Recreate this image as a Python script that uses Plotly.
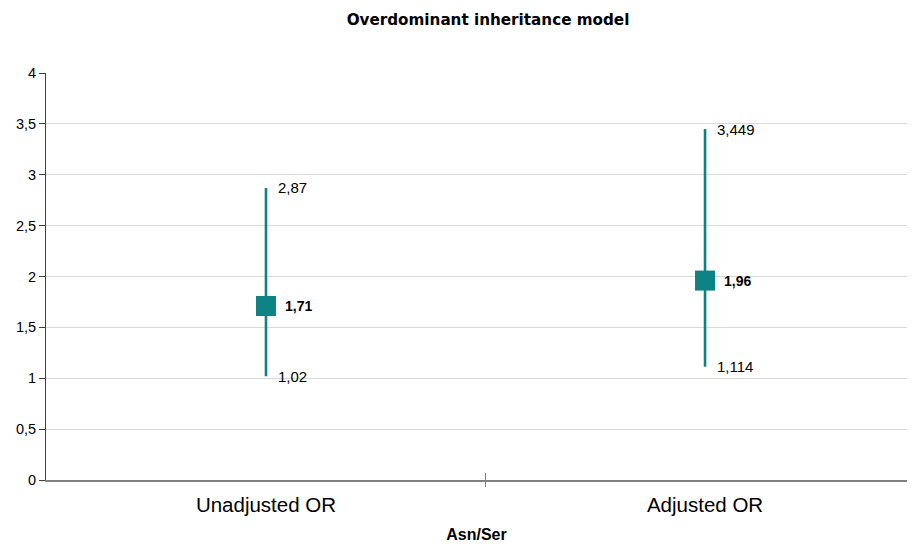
import plotly.graph_objects as go

categories = ["Unadjusted OR", "Adjusted OR"]
odds_ratio = [1.71, 1.96]
ci_lower = [1.02, 1.114]
ci_upper = [2.87, 3.449]
y_ticks = [0, 0.5, 1, 1.5, 2, 2.5, 3, 3.5, 4]

TEAL = "#0d8282"
FONT = "Liberation Sans, Arial, sans-serif"

def fmt(v):
    return ("%g" % v).replace(".", ",")

xpos = list(range(len(categories)))

# the page body has an 8px margin; size the figure to fit the 915x551 window
W, H = 899, 535
PLOT_H = 407

fig = go.Figure()

fig.add_trace(go.Scatter(
    x=xpos, y=odds_ratio, mode="markers",
    marker=dict(symbol="square", size=20, color=TEAL),
    error_y=dict(type="data", symmetric=False,
                 array=[u - o for u, o in zip(ci_upper, odds_ratio)],
                 arrayminus=[o - l for o, l in zip(odds_ratio, ci_lower)],
                 color=TEAL, thickness=2.6, width=0),
    hoverinfo="skip", showlegend=False,
))

annotations = []
for x, o, lo, hi in zip(xpos, odds_ratio, ci_lower, ci_upper):
    annotations.append(dict(x=x, y=o, xref="x", yref="y", text="<b>" + fmt(o) + "</b>",
                            showarrow=False, xanchor="left", yanchor="middle", xshift=17,
                            font=dict(family=FONT, size=14, color="#000000")))
    annotations.append(dict(x=x, y=hi, xref="x", yref="y", text=fmt(hi),
                            showarrow=False, xanchor="left", yanchor="middle", xshift=10,
                            font=dict(family=FONT, size=15, color="#000000")))
    annotations.append(dict(x=x, y=lo, xref="x", yref="y", text=fmt(lo),
                            showarrow=False, xanchor="left", yanchor="middle", xshift=10,
                            font=dict(family=FONT, size=15, color="#000000")))

# category divider tick crossing the x axis
fig.add_shape(type="line", x0=0.5, x1=0.5, y0=-7 / PLOT_H, y1=7 / PLOT_H,
              xref="x", yref="paper", line=dict(color="#808080", width=1))

fig.update_layout(
    width=W, height=H,
    margin=dict(l=38, r=0, t=65, b=63, pad=0),
    paper_bgcolor="white", plot_bgcolor="white",
    separators=",.",
    annotations=annotations,
    title=dict(text="<b>Overdominant inheritance model</b>",
               x=480 / W, xanchor="center", y=1 - 12 / H, yanchor="middle",
               font=dict(family="DejaVu Sans, sans-serif", size=15.2, color="#000000")),
    xaxis=dict(range=[-0.501, 1.460], tickvals=xpos, ticktext=categories,
               showgrid=False, zeroline=False, showline=True, automargin=False,
               linecolor="#808080", linewidth=1.5, ticks="",
               ticklabelstandoff=6,
               tickfont=dict(family=FONT, size=20.5, color="#000000"),
               title=dict(text="<b>Asn/Ser</b>", standoff=22,
                          font=dict(family=FONT, size=16, color="#000000"))),
    yaxis=dict(range=[0, 4], tickvals=y_ticks,
               ticktext=[fmt(v) for v in y_ticks], automargin=False,
               showgrid=True, gridcolor="#d9d9d9", gridwidth=1,
               zeroline=False, showline=True, linecolor="#404040", linewidth=1,
               ticks="outside", ticklen=6, tickcolor="#404040",
               tickfont=dict(family=FONT, size=14.5, color="#000000")),
)

fig.write_html("out.html")
